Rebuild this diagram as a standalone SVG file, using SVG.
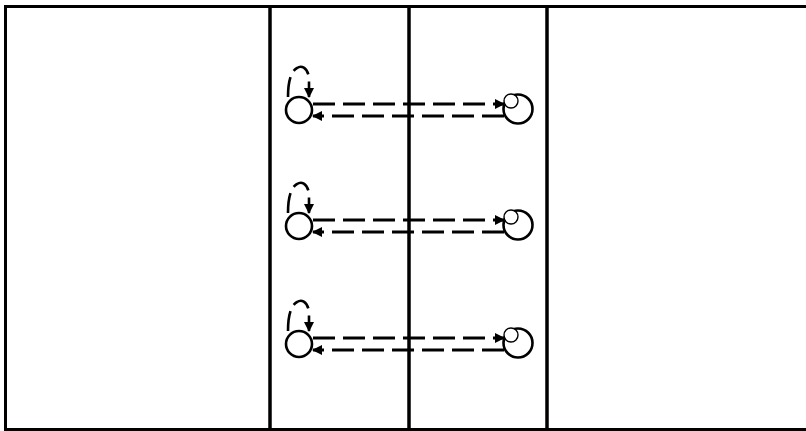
<svg xmlns="http://www.w3.org/2000/svg" width="806" height="431" viewBox="0 0 806 431">
  <style>
    .frame { fill: none; stroke: #000; stroke-width: 3; }
    .lane { stroke: #000; stroke-width: 3.5; }
    .state { fill: #fff; stroke: #000; stroke-width: 2.6; }
    .inner { fill: #fff; stroke: #000; stroke-width: 1.4; }
    .edge { fill: none; stroke: #000; stroke-width: 3; stroke-dasharray: 22 8; }
    .loop { fill: none; stroke: #000; stroke-width: 2.6; stroke-dasharray: 20 7; }
  </style>
  <defs>
    <marker id="arrow" viewBox="0 0 10 10" refX="9" refY="5" markerWidth="12" markerHeight="10" orient="auto" markerUnits="userSpaceOnUse">
      <path d="M0,0 L10,5 L0,10 z" fill="#000"/>
    </marker>
  </defs>
  <rect x="0" y="0" width="806" height="431" fill="#fff"/>
  <g id="frame">
    <path class="frame" d="M810,6.5 H5.5 V429.5 H810"/>
    <line class="lane" x1="270" y1="6" x2="270" y2="431"/>
    <line class="lane" x1="409" y1="6" x2="409" y2="431"/>
    <line class="lane" x1="547" y1="6" x2="547" y2="431"/>
  </g>
  <g id="connectors">
    <g>
      <path class="loop" d="M288,97 C288,84 290,72 297,68 C303,64 309,70 309,80 L309,97" marker-end="url(#arrow)"/>
      <line class="edge" x1="313" y1="104" x2="504" y2="104" marker-end="url(#arrow)"/>
      <line class="edge" x1="504" y1="116" x2="313" y2="116" marker-end="url(#arrow)"/>
    </g>
    <g transform="translate(0,116)">
      <path class="loop" d="M288,97 C288,84 290,72 297,68 C303,64 309,70 309,80 L309,97" marker-end="url(#arrow)"/>
      <line class="edge" x1="313" y1="104" x2="504" y2="104" marker-end="url(#arrow)"/>
      <line class="edge" x1="504" y1="116" x2="313" y2="116" marker-end="url(#arrow)"/>
    </g>
    <g transform="translate(0,234)">
      <path class="loop" d="M288,97 C288,84 290,72 297,68 C303,64 309,70 309,80 L309,97" marker-end="url(#arrow)"/>
      <line class="edge" x1="313" y1="104" x2="504" y2="104" marker-end="url(#arrow)"/>
      <line class="edge" x1="504" y1="116" x2="313" y2="116" marker-end="url(#arrow)"/>
    </g>
  </g>
  <g id="s1"><circle class="state" cx="299" cy="110" r="13"/></g>
  <g id="t1"><circle class="state" cx="518" cy="109" r="14.5"/><circle class="inner" cx="511" cy="101" r="7"/></g>
  <g id="s2"><circle class="state" cx="299" cy="226" r="13"/></g>
  <g id="t2"><circle class="state" cx="518" cy="225" r="14.5"/><circle class="inner" cx="511" cy="217" r="7"/></g>
  <g id="s3"><circle class="state" cx="299" cy="344" r="13"/></g>
  <g id="t3"><circle class="state" cx="518" cy="343" r="14.5"/><circle class="inner" cx="511" cy="335" r="7"/></g>
</svg>
